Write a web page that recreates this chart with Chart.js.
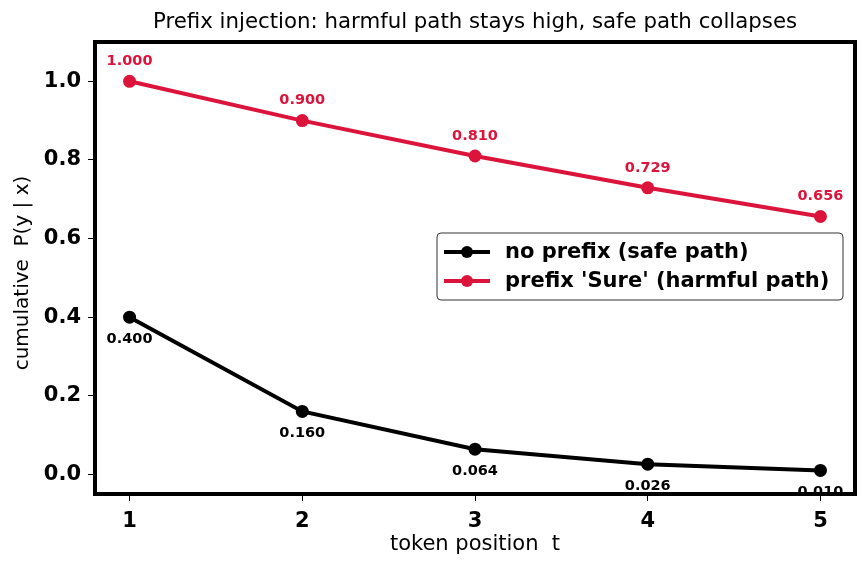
<!DOCTYPE html>
<html>
<head>
<meta charset="utf-8">
<script src="https://cdn.jsdelivr.net/npm/chart.js@4.4.1/dist/chart.umd.min.js"></script>
<style>
  html, body { margin: 0; padding: 0; background: #fff; }
  #wrap { width: 868px; height: 569px; }
</style>
</head>
<body>
<div id="wrap"><canvas id="chart"></canvas></div>
<script>
// data
const tokenPositions = [1, 2, 3, 4, 5];
const safePath = [0.400, 0.160, 0.064, 0.026, 0.010];
const harmfulPath = [1.000, 0.900, 0.810, 0.729, 0.656];
const seriesNames = ["no prefix (safe path)", "prefix 'Sure' (harmful path)"];
const yTicks = [0.0, 0.2, 0.4, 0.6, 0.8, 1.0];

const FONT = "'DejaVu Sans', sans-serif";
const RED = "#DC143C";

function toPoints(values) {
  return tokenPositions.map((t, i) => ({ x: t, y: values[i] }));
}

// value labels, border, legend and titles drawn on the canvas
const decorPlugin = {
  id: 'decor',
  afterDatasetsDraw(chart) {
    const ctx = chart.ctx;
    ctx.save();
    ctx.font = "bold 14.5px " + FONT;
    ctx.textAlign = "center";
    ctx.textBaseline = "middle";
    chart.data.datasets.forEach((ds, di) => {
      const meta = chart.getDatasetMeta(di);
      meta.data.forEach((pt, i) => {
        const v = ds.data[i].y;
        ctx.fillStyle = ds.borderColor;
        const dy = di === 1 ? -20 : 22;
        ctx.fillText(v.toFixed(3), pt.x, pt.y + dy);
      });
    });
    ctx.restore();
  },
  afterDraw(chart) {
    const ctx = chart.ctx;
    const a = chart.chartArea;
    ctx.save();
    // thick frame
    ctx.strokeStyle = "#000";
    ctx.lineWidth = 4;
    ctx.strokeRect(a.left, a.top, a.right - a.left, a.bottom - a.top);

    // title
    ctx.fillStyle = "#000";
    ctx.font = "21.3px " + FONT;
    ctx.textAlign = "center";
    ctx.textBaseline = "middle";
    ctx.fillText("Prefix injection: harmful path stays high, safe path collapses", (a.left + a.right) / 2, 22);

    // axis titles
    ctx.font = "21px " + FONT;
    ctx.fillText("token position  t", (a.left + a.right) / 2, 545);
    ctx.save();
    ctx.font = "20px " + FONT;
    ctx.translate(23, (a.top + a.bottom) / 2 + 5);
    ctx.rotate(-Math.PI / 2);
    ctx.fillText("cumulative  P(y | x)", 0, 0);
    ctx.restore();

    // legend
    const lx = 437, ly = 233, lw = 406, lh = 67;
    ctx.beginPath();
    ctx.roundRect(lx, ly, lw, lh, 4);
    ctx.fillStyle = "rgba(255,255,255,0.85)";
    ctx.fill();
    ctx.strokeStyle = "#333";
    ctx.lineWidth = 1;
    ctx.stroke();
    ctx.font = "bold 21px " + FONT;
    ctx.textAlign = "left";
    chart.data.datasets.forEach((ds, di) => {
      const yy = ly + 19 + di * 29;
      ctx.strokeStyle = ds.borderColor;
      ctx.lineWidth = 4;
      ctx.beginPath();
      ctx.moveTo(444, yy);
      ctx.lineTo(490, yy);
      ctx.stroke();
      ctx.fillStyle = ds.borderColor;
      ctx.beginPath();
      ctx.arc(467, yy, 6, 0, Math.PI * 2);
      ctx.fill();
      ctx.fillStyle = "#000";
      ctx.fillText(ds.label, 505, yy + 1);
    });
    ctx.restore();
  }
};

new Chart(document.getElementById('chart'), {
  type: 'line',
  data: {
    datasets: [
      {
        label: seriesNames[0],
        data: toPoints(safePath),
        borderColor: "#000",
        backgroundColor: "#000",
        borderWidth: 4,
        pointRadius: 6.5,
        pointBorderWidth: 0,
        tension: 0
      },
      {
        label: seriesNames[1],
        data: toPoints(harmfulPath),
        borderColor: RED,
        backgroundColor: RED,
        borderWidth: 4,
        pointRadius: 6.5,
        pointBorderWidth: 0,
        tension: 0
      }
    ]
  },
  options: {
    responsive: true,
    maintainAspectRatio: false,
    animation: false,
    layout: { padding: { top: 42, right: 13, left: 0, bottom: 0 } },
    plugins: {
      legend: { display: false },
      title: { display: false },
      tooltip: { enabled: false }
    },
    scales: {
      x: {
        type: 'linear',
        min: 0.8,
        max: 5.2,
        afterBuildTicks: s => { s.ticks = tokenPositions.map(v => ({ value: v })); },
        afterFit: s => { s.height = 75; },
        grid: { drawOnChartArea: false, drawTicks: true, tickLength: 7, color: "#000", lineWidth: 1 },
        border: { display: false },
        ticks: {
          padding: 8,
          color: "#000",
          font: { family: FONT, size: 21, weight: 'bold' },
          callback: v => String(v)
        }
      },
      y: {
        min: -0.05,
        max: 1.1,
        afterBuildTicks: s => { s.ticks = yTicks.map(v => ({ value: v })); },
        afterFit: s => { s.width = 95; },
        grid: { drawOnChartArea: false, drawTicks: true, tickLength: 7, color: "#000", lineWidth: 1 },
        border: { display: false },
        ticks: {
          padding: 7,
          color: "#000",
          font: { family: FONT, size: 21, weight: 'bold' },
          callback: v => v.toFixed(1)
        }
      }
    }
  },
  plugins: [decorPlugin]
});
</script>
</body>
</html>
